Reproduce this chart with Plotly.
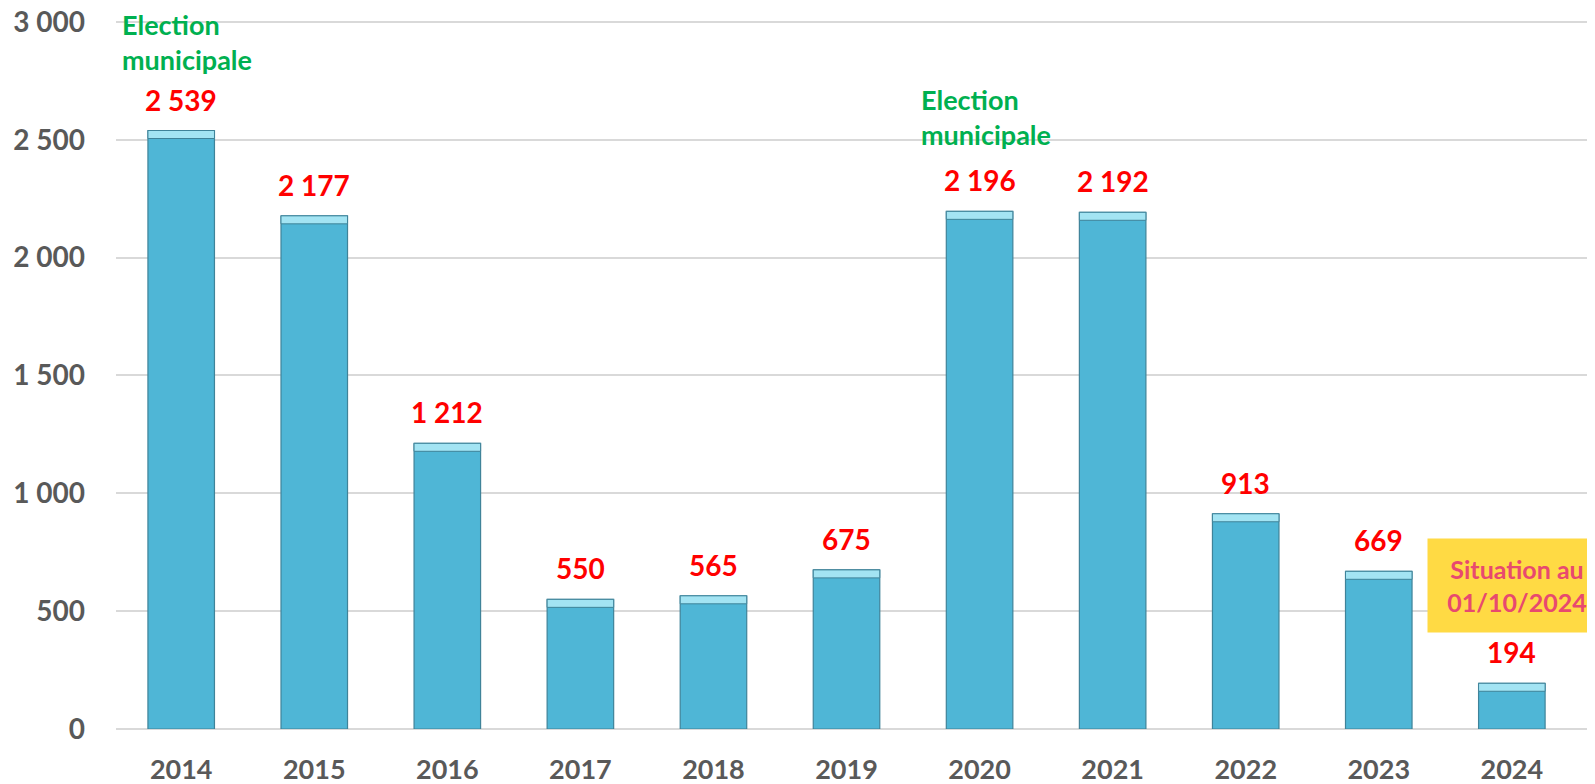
import plotly.graph_objects as go

years = ["2014", "2015", "2016", "2017", "2018", "2019", "2020", "2021", "2022", "2023", "2024"]
values = [2539, 2177, 1212, 550, 565, 675, 2196, 2192, 913, 669, 194]
election_years = ["2014", "2020"]
note_year = "2024"
note_text = "Situation au<br>01/10/2024"
y_ticks = [0, 500, 1000, 1500, 2000, 2500, 3000]

FONT = "Lato"
EDGE = "#3F8399"
ELECTION_SHIFT = {"2014": 53, "2020": 58}

fig = go.Figure()
fig.add_trace(go.Bar(
    x=years, y=values,
    marker=dict(color="#4FB6D6", line=dict(color=EDGE, width=1.2)),
    width=0.5,
    hoverinfo="x+y",
))

shapes = []
annotations = []
for i, (yr, v) in enumerate(zip(years, values)):
    # light top bevel
    shapes.append(dict(type="rect", xref="x", yref="y", x0=i - 0.25, x1=i + 0.25,
                       ysizemode="pixel", yanchor=v, y0=-8, y1=0,
                       fillcolor="#A3E4F3", line=dict(color=EDGE, width=1), layer="above"))
    annotations.append(dict(x=i, y=v, xref="x", yref="y", text=f"{v:,}".replace(",", " "),
                            showarrow=False, yanchor="bottom", yshift=12,
                            font=dict(family=FONT, size=28, color="#FF0000", weight="bold")))
    if yr in election_years:
        annotations.append(dict(x=i, y=v, xref="x", yref="y", text="Election<br>municipale",
                                showarrow=False, yanchor="bottom", yshift=ELECTION_SHIFT[yr], xshift=6,
                                align="left",
                                font=dict(family=FONT, size=27, color="#00B050", weight="bold")))
    if yr == note_year:
        annotations.append(dict(x=i, y=v, xref="x", yref="y", text=note_text,
                                showarrow=False, yanchor="bottom", yshift=50, xshift=5, align="center",
                                bgcolor="#FFDA44", borderpad=15, width=148,
                                font=dict(family=FONT, size=25, color="#E8496F", weight="bold")))

# The page body keeps the browser's default 8px margin, so the figure is sized to fit the window.
fig.update_layout(
    width=1587, height=776,
    margin=dict(l=108, r=2, t=11, b=55),
    paper_bgcolor="white", plot_bgcolor="white",
    separators=", ",
    showlegend=False,
    bargap=0.5,
    shapes=shapes,
    annotations=annotations,
    xaxis=dict(type="category", range=[-0.49, 10.61], showgrid=False, showline=False, zeroline=False,
               automargin=False,
               tickfont=dict(family=FONT, size=27, color="#595959", weight="bold"),
               ticks="", ticklabelstandoff=22),
    yaxis=dict(range=[0, 3012], tickvals=y_ticks, showgrid=True, gridcolor="#D9D9D9", gridwidth=1.5,
               zeroline=True, zerolinecolor="#D9D9D9", zerolinewidth=1.5, showline=False,
               tickformat=",d", automargin=False, ticklabeloverflow="allow",
               tickfont=dict(family=FONT, size=28, color="#595959", weight="bold"),
               ticks="", ticklabelstandoff=30),
)

fig.write_html("out.html")
